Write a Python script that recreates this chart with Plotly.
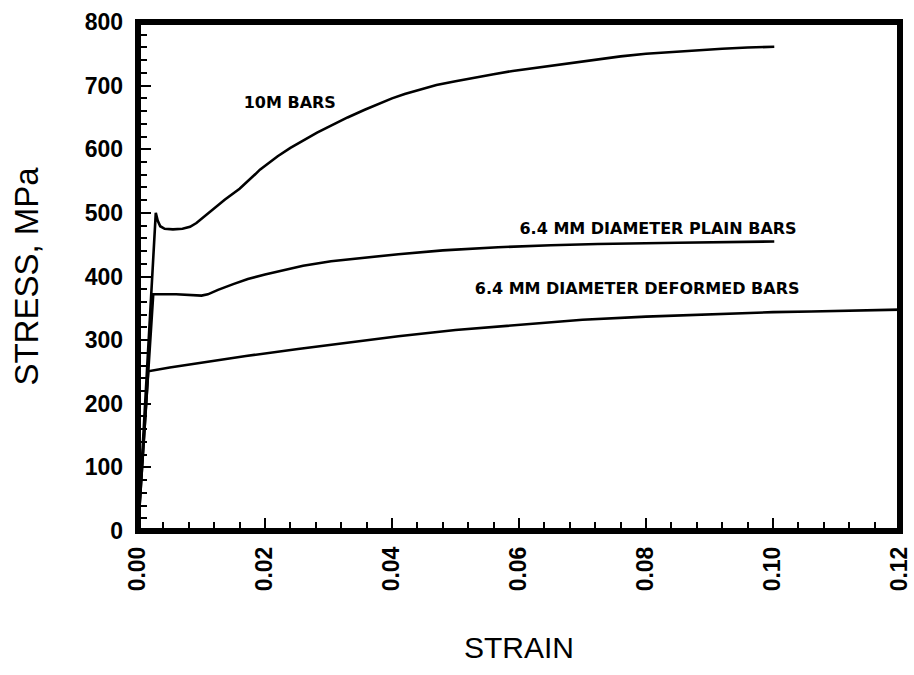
import plotly.graph_objects as go

# 10M bars
strain_10m = [0.0, 0.0028, 0.0031, 0.0035, 0.0042, 0.0055, 0.0070, 0.0082, 0.0092, 0.0105, 0.0120, 0.0137,
              0.0160, 0.0175, 0.0185, 0.0192, 0.0205, 0.0220, 0.0240, 0.0260, 0.0282, 0.0304, 0.0330, 0.0357,
              0.0380, 0.0400, 0.0420, 0.0440, 0.0470, 0.0500, 0.0530, 0.0560, 0.0590, 0.0620, 0.0650, 0.0680,
              0.0724, 0.0760, 0.0800, 0.0840, 0.0880, 0.0920, 0.0960, 0.1002]
stress_10m = [0, 500, 488, 479, 475, 474, 475, 478, 484, 495, 508, 521,
              538, 551, 561, 568, 578, 589, 602, 614, 626, 637, 650, 662,
              672, 680, 687, 693, 701, 707, 713, 718, 723, 727, 731, 736,
              742, 746, 750, 753, 756, 758, 760, 761]

# 6.4 mm diameter plain bars
strain_plain = [0.0, 0.0024, 0.0060, 0.0085, 0.0100, 0.0110, 0.0126, 0.0150, 0.0173, 0.0200, 0.0230, 0.0260,
                0.0304, 0.0350, 0.0410, 0.0480, 0.0567, 0.0650, 0.0724, 0.0850, 0.1002]
stress_plain = [0, 372, 372, 371, 370, 372, 379, 388, 396, 403, 410, 417,
                424, 429, 435, 441, 446, 449, 451, 453, 455]

# 6.4 mm diameter deformed bars
strain_def = [0.0, 0.0016, 0.0050, 0.0094, 0.0170, 0.0252, 0.0330, 0.0410, 0.0500,
              0.0619, 0.0700, 0.0800, 0.0900, 0.1000, 0.1060, 0.1200]
stress_def = [0, 251, 257, 264, 275, 286, 296, 306, 316,
              326, 332, 337, 341, 344, 345, 348]

labels = ["10M BARS", "6.4 MM DIAMETER PLAIN BARS", "6.4 MM DIAMETER DEFORMED BARS"]
label_x = [0.0239, 0.0819, 0.0786]
label_y = [671, 473, 379]

x_ticks = [0.00, 0.02, 0.04, 0.06, 0.08, 0.10, 0.12]
x_ticktext = ["0.00", "0.02", "0.04", "0.06", "0.08", "0.10", "0.12"]
y_ticks = [0, 100, 200, 300, 400, 500, 600, 700, 800]

fig = go.Figure()
for xs, ys in [(strain_10m, stress_10m), (strain_plain, stress_plain), (strain_def, stress_def)]:
    fig.add_trace(go.Scatter(x=xs, y=ys, mode="lines", line=dict(color="black", width=2.6),
                             showlegend=False, hoverinfo="skip"))

fig.add_trace(go.Scatter(x=label_x, y=label_y, mode="text", text=labels,
                         textfont=dict(family="DejaVu Sans", size=16, color="black", weight="bold"),
                         showlegend=False, hoverinfo="skip"))

# heavy frame centred on the plot edges
fig.add_shape(type="rect", xref="paper", yref="paper", x0=0, x1=1, y0=0, y1=1,
              line=dict(color="black", width=6), layer="above")

axis_font = dict(family="Liberation Sans", size=23, color="black", weight="bold")
fig.update_layout(
    width=914, height=675,
    margin=dict(l=138, r=14, t=22, b=144),
    paper_bgcolor="white", plot_bgcolor="white",
    xaxis=dict(range=[0, 0.12], tickvals=x_ticks, ticktext=x_ticktext, tickangle=-90, automargin=False,
               showgrid=False, zeroline=False, showline=False,
               ticks="inside", ticklen=13, tickwidth=2, tickcolor="black",
               minor=dict(ticks="inside", ticklen=9, tickwidth=2, dtick=0.004, tickcolor="black", showgrid=False),
               tickfont=axis_font, ticklabelstandoff=10,
               title=dict(text="STRAIN", font=dict(family="Liberation Sans", size=30, color="black"), standoff=46)),
    yaxis=dict(range=[0, 800], tickvals=y_ticks, automargin=False,
               showgrid=False, zeroline=False, showline=False,
               ticks="inside", ticklen=13, tickwidth=2, tickcolor="black",
               minor=dict(ticks="inside", ticklen=9, tickwidth=2, dtick=20, tickcolor="black", showgrid=False),
               tickfont=axis_font, ticklabelstandoff=14,
               title=dict(text="STRESS, MPa", font=dict(family="Liberation Sans", size=33, color="black"), standoff=36)),
)

fig.write_html("out.html", config={"displayModeBar": False},
               post_script="document.body.style.margin='0px';document.body.style.overflow='hidden';")
